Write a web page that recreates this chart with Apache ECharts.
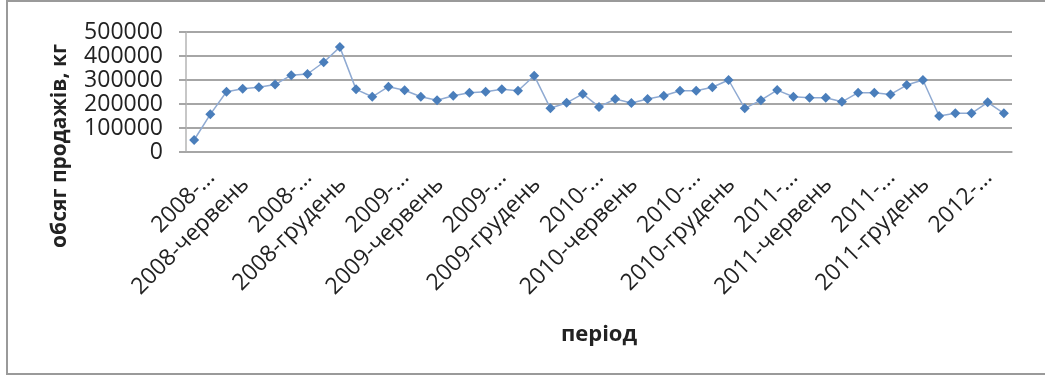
<!DOCTYPE html>
<html>
<head>
<meta charset="utf-8">
<title>Обсяг продажів</title>
<script src="https://cdn.jsdelivr.net/npm/echarts@6/dist/echarts.min.js"></script>
<style>
  html, body { margin: 0; padding: 0; background: #ffffff; }
  #chart { width: 1045px; height: 376px; }
</style>
</head>
<body>
<div id="chart"></div>
<script>
// Monthly periods, March 2008 – May 2012
const periods = [
  '2008-березень', '2008-квітень', '2008-травень', '2008-червень', '2008-липень', '2008-серпень',
  '2008-вересень', '2008-жовтень', '2008-листопад', '2008-грудень',
  '2009-січень', '2009-лютий', '2009-березень', '2009-квітень', '2009-травень', '2009-червень',
  '2009-липень', '2009-серпень', '2009-вересень', '2009-жовтень', '2009-листопад', '2009-грудень',
  '2010-січень', '2010-лютий', '2010-березень', '2010-квітень', '2010-травень', '2010-червень',
  '2010-липень', '2010-серпень', '2010-вересень', '2010-жовтень', '2010-листопад', '2010-грудень',
  '2011-січень', '2011-лютий', '2011-березень', '2011-квітень', '2011-травень', '2011-червень',
  '2011-липень', '2011-серпень', '2011-вересень', '2011-жовтень', '2011-листопад', '2011-грудень',
  '2012-січень', '2012-лютий', '2012-березень', '2012-квітень', '2012-травень'
];

// Sales volume, kg
const salesKg = [
  50000, 157000, 251000, 264000, 270000, 281000, 320000, 325000, 374000, 437000,
  261000, 230000, 272000, 257000, 230000, 216000, 234000, 247000, 251000, 261000,
  255000, 318000, 182000, 205000, 242000, 188000, 221000, 204000, 221000, 234000,
  255000, 255000, 270000, 300000, 182000, 216000, 258000, 230000, 226000, 226000,
  209000, 247000, 247000, 240000, 279000, 300000, 150000, 161000, 161000, 207000,
  161000
];

// Value axis ticks
const yTicks = [0, 100000, 200000, 300000, 400000, 500000];

const yTitle = 'обсяг продажів, кг';
const xTitle = 'період';

const FONT = '"Open Sans", "Noto Sans", sans-serif';
const TEXT_COLOR = '#222222';

// Long month names are shortened to "YYYY-..." on the axis;
// shortened and full labels sit slightly differently along the axis.
function categoryLabel(p) {
  const [year, month] = p.split('-');
  return month.length > 7 ? '{s|' + year + '-...}' : '{l|' + p + '}';
}

const labelFont = { fontFamily: FONT, fontSize: 23, color: TEXT_COLOR };

const chart = echarts.init(document.getElementById('chart'), null, { renderer: 'canvas' });

chart.setOption({
  backgroundColor: '#ffffff',
  animation: false,
  grid: { left: 186, right: 33, top: 32, bottom: 224, containLabel: false },
  xAxis: {
    type: 'category',
    data: periods,
    boundaryGap: true,
    axisLine: { show: true, lineStyle: { color: '#a6a6a6', width: 1.5 } },
    axisTick: { show: false },
    axisLabel: {
      interval: 2,
      rotate: 45,
      margin: 5,
      color: TEXT_COLOR,
      fontFamily: FONT,
      fontSize: 23,
      formatter: categoryLabel,
      rich: {
        s: Object.assign({ padding: [48, 0, 0, 0] }, labelFont),
        l: Object.assign({ padding: [38, 15, 0, 0] }, labelFont)
      }
    },
    splitLine: { show: false },
    name: xTitle,
    nameLocation: 'middle',
    nameGap: 172,
    nameTextStyle: { fontFamily: FONT, fontSize: 22, fontWeight: 'bold', color: TEXT_COLOR }
  },
  yAxis: {
    type: 'value',
    min: yTicks[0],
    max: yTicks[yTicks.length - 1],
    interval: yTicks[1] - yTicks[0],
    axisLine: { show: true, lineStyle: { color: '#b5b5b5', width: 1.5 } },
    axisTick: { show: true, length: 7, lineStyle: { color: '#a6a6a6', width: 2 } },
    axisLabel: {
      margin: 23,
      color: TEXT_COLOR,
      fontFamily: FONT,
      fontSize: 23,
      formatter: v => String(v)
    },
    splitLine: { show: true, lineStyle: { color: '#a6a6a6', width: 2 } }
  },
  graphic: [
    {
      type: 'rect',
      silent: true,
      shape: { x: 7, y: 1, width: 1100, height: 373 },
      style: { fill: 'none', stroke: '#9a9a9a', lineWidth: 2 }
    },
    {
      type: 'text',
      silent: true,
      x: 60,
      y: 146,
      rotation: Math.PI / 2,
      style: {
        text: yTitle,
        font: 'bold 21px ' + FONT,
        fill: TEXT_COLOR,
        align: 'center',
        verticalAlign: 'middle'
      }
    }
  ],
  series: [
    {
      type: 'line',
      data: salesKg,
      symbol: 'diamond',
      symbolSize: 10,
      itemStyle: { color: '#4a7ebb' },
      lineStyle: { color: '#8faad2', width: 1.5 }
    }
  ]
});
</script>
</body>
</html>
